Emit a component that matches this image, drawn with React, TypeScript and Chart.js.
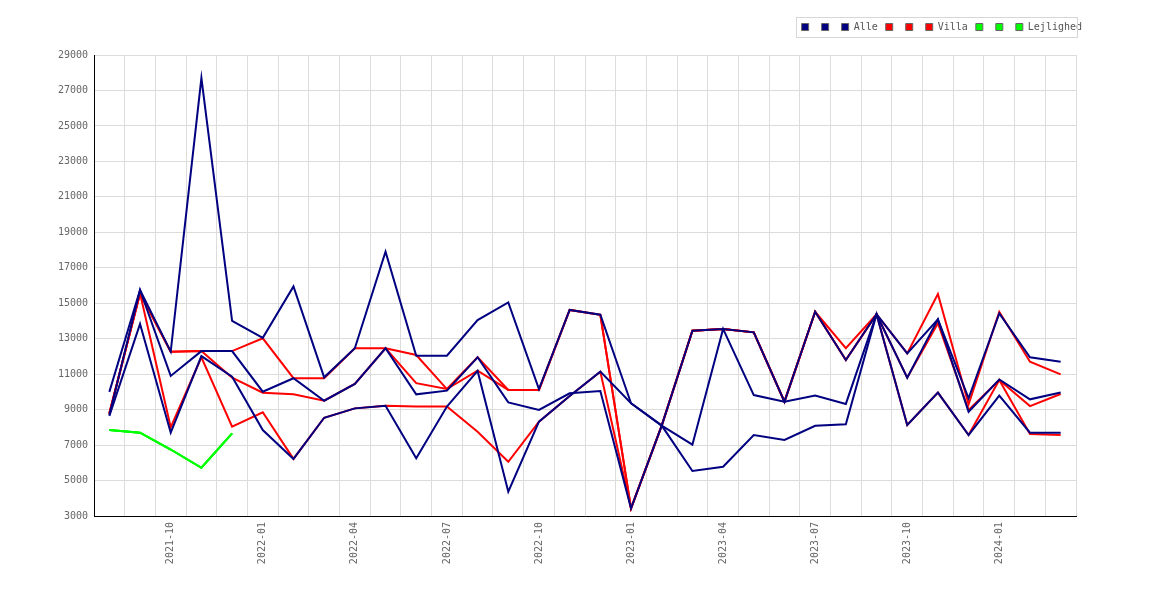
import { useEffect, useRef } from "react";
import { Chart, registerables } from "chart.js";

Chart.register(...registerables);

const maaneder = [
  "2021-08", "2021-09", "2021-10", "2021-11", "2021-12",
  "2022-01", "2022-02", "2022-03", "2022-04", "2022-05", "2022-06",
  "2022-07", "2022-08", "2022-09", "2022-10", "2022-11", "2022-12",
  "2023-01", "2023-02", "2023-03", "2023-04", "2023-05", "2023-06",
  "2023-07", "2023-08", "2023-09", "2023-10", "2023-11", "2023-12",
  "2024-01", "2024-02", "2024-03",
];

// Alle
const alle1 = [
  10000, 15750, 12270, 27700, 14000, 13050, 15950, 10820, 12460, 17910, 12040,
  12040, 14050, 15050, 10160, 14620, 14350, 9360, 8100, 7020, 13550, 9820,
  9450, 9790, 9320, 14380, 10800, 14090, 8880, 10700, 9580, 9960,
];
const alle2 = [
  8700, 15750, 10900, 12300, 12300, 10010, 10770, 9500, 10450, 12460, 9860,
  10070, 11950, 9410, 8980, 9920, 10050, 3430, 8100, 13450, 13550, 13360,
  9450, 14520, 11800, 14380, 12170, 14090, 9640, 14430, 11950, 11700,
];
const alle3 = [
  8650, 13830, 7700, 12020, 10860, 7850, 6220, 8540, 9070, 9220, 6250,
  9170, 11180, 4370, 8320, 9770, 11140, 9360, 8100, 5540, 5780, 7570,
  7290, 8090, 8170, 14380, 8130, 9960, 7570, 9790, 7700, 7700,
];

// Villa
const villa1 = [
  8800, 15560, 12270, 12300, 12300, 13020, 10770, 10770, 12460, 12460, 12080,
  10160, 11950, 10110, 10110, 14620, 14350, 3430, 8100, 13450, 13550, 13360,
  9450, 14520, 12460, 14380, 12170, 15520, 9300, 14520, 11700, 10990,
];
const villa2 = [
  8750, 15560, 8000, 11950, 8040, 8850, 6220, 8540, 9070, 9220, 9170,
  9170, 7750, 6060, 8320, 9770, 11140, 3430, 8100, 13450, 13550, 13360,
  9450, 14520, 11800, 14380, 8130, 9960, 7570, 10670, 7630, 7570,
];
const villa3 = [
  8800, 15560, 12270, 12300, 10800, 9950, 9860, 9500, 10450, 12460, 10490,
  10160, 11200, 10110, 10110, 14620, 14350, 3430, 8100, 13450, 13550, 13360,
  9450, 14520, 11800, 14380, 10800, 13870, 8980, 10670, 9200, 9880,
];

// Lejlighed (kun de første måneder)
const lejl1 = [7850, 7700, 6750, 5720, 7660];
const lejl2 = [7850, 7700, 6750, 5720, 7660];
const lejl3 = [7850, 7700, 6750, 5720, 7660];

const NAVY = "#000080";
const ROED = "#ff0000";
const GROEN = "#00ff00";
const FONT = { family: "'DejaVu Sans Mono', monospace", size: 10 };

function serie(label: string, data: (number | null)[], farve: string) {
  return {
    label,
    data,
    borderColor: farve,
    backgroundColor: farve,
    borderWidth: 2,
    pointRadius: 0,
    tension: 0,
    fill: false,
  };
}

// ramme om legenden + lidt luft under den
const legendRamme = {
  id: "legendRamme",
  beforeInit(chart: any) {
    const fit = chart.legend.fit;
    chart.legend.fit = function () {
      fit.bind(chart.legend)();
      this.height += 13;
    };
  },
  afterDraw(chart: any) {
    const boxes = chart.legend?.legendHitBoxes;
    if (!boxes || !boxes.length) return;
    const ctx = chart.ctx;
    const left = Math.round(boxes[0].left - 6) + 0.5;
    const right = Math.round(chart.chartArea.right + 1) + 0.5;
    const mid = Math.round(boxes[0].top + boxes[0].height / 2);
    ctx.save();
    ctx.strokeStyle = "#d6d6d6";
    ctx.lineWidth = 1;
    ctx.strokeRect(left, mid - 10 + 0.5, right - left, 20);
    ctx.restore();
  },
};

export default function App() {
  const canvasRef = useRef<HTMLCanvasElement>(null);
  const chartRef = useRef<Chart | null>(null);

  useEffect(() => {
    if (!canvasRef.current) return;
    if (chartRef.current) chartRef.current.destroy();

    chartRef.current = new Chart(canvasRef.current, {
      type: "line",
      data: {
        labels: maaneder,
        datasets: [
          serie("", alle1, NAVY),
          serie("", alle2, NAVY),
          serie("Alle", alle3, NAVY),
          serie("", villa1, ROED),
          serie("", villa2, ROED),
          serie("Villa", villa3, ROED),
          serie("", lejl1, GROEN),
          serie("", lejl2, GROEN),
          serie("Lejlighed", lejl3, GROEN),
        ],
      },
      options: {
        animation: false,
        responsive: true,
        maintainAspectRatio: false,
        layout: { padding: { top: 6, right: 72, bottom: 0, left: 0 } },
        plugins: {
          tooltip: { enabled: false },
          legend: {
            position: "top",
            align: "end",
            labels: {
              boxWidth: 7,
              boxHeight: 7,
              padding: 8,
              color: "#555",
              font: FONT,
              generateLabels: (chart: any) =>
                Chart.defaults.plugins.legend.labels.generateLabels(chart).map((l: any) => ({
                  ...l,
                  strokeStyle: "#666",
                  lineWidth: 1,
                })),
            },
          },
        },
        scales: {
          x: {
            offset: true,
            grid: { offset: true, color: "#dcdcdc", drawTicks: false },
            border: { color: "#000", width: 1 },
            ticks: {
              autoSkip: false,
              maxRotation: 90,
              minRotation: 90,
              padding: 6,
              color: "#666",
              font: FONT,
              callback: (_v: any, i: number) => {
                const m = maaneder[i].slice(5);
                return m === "01" || m === "04" || m === "07" || m === "10" ? maaneder[i] : "";
              },
            },
            afterFit: (s: any) => {
              s.height = 76;
            },
          },
          y: {
            min: 3000,
            max: 29000,
            grid: { color: "#dcdcdc", drawTicks: false },
            border: { color: "#000", width: 1 },
            ticks: {
              stepSize: 2000,
              padding: 6,
              color: "#666",
              font: FONT,
              callback: (v: any) => String(v),
            },
            afterFit: (s: any) => {
              s.width = 86;
            },
          },
          y2: {
            position: "right",
            grid: { display: false },
            border: { display: false },
            ticks: { display: false },
            afterFit: (s: any) => {
              s.width = 14;
            },
          },
        },
      },
      plugins: [legendRamme],
    });

    return () => {
      if (chartRef.current) chartRef.current.destroy();
      chartRef.current = null;
    };
  }, []);

  return (
    <div style={{ width: "100%", height: "584px" }}>
      <canvas ref={canvasRef} />
    </div>
  );
}
